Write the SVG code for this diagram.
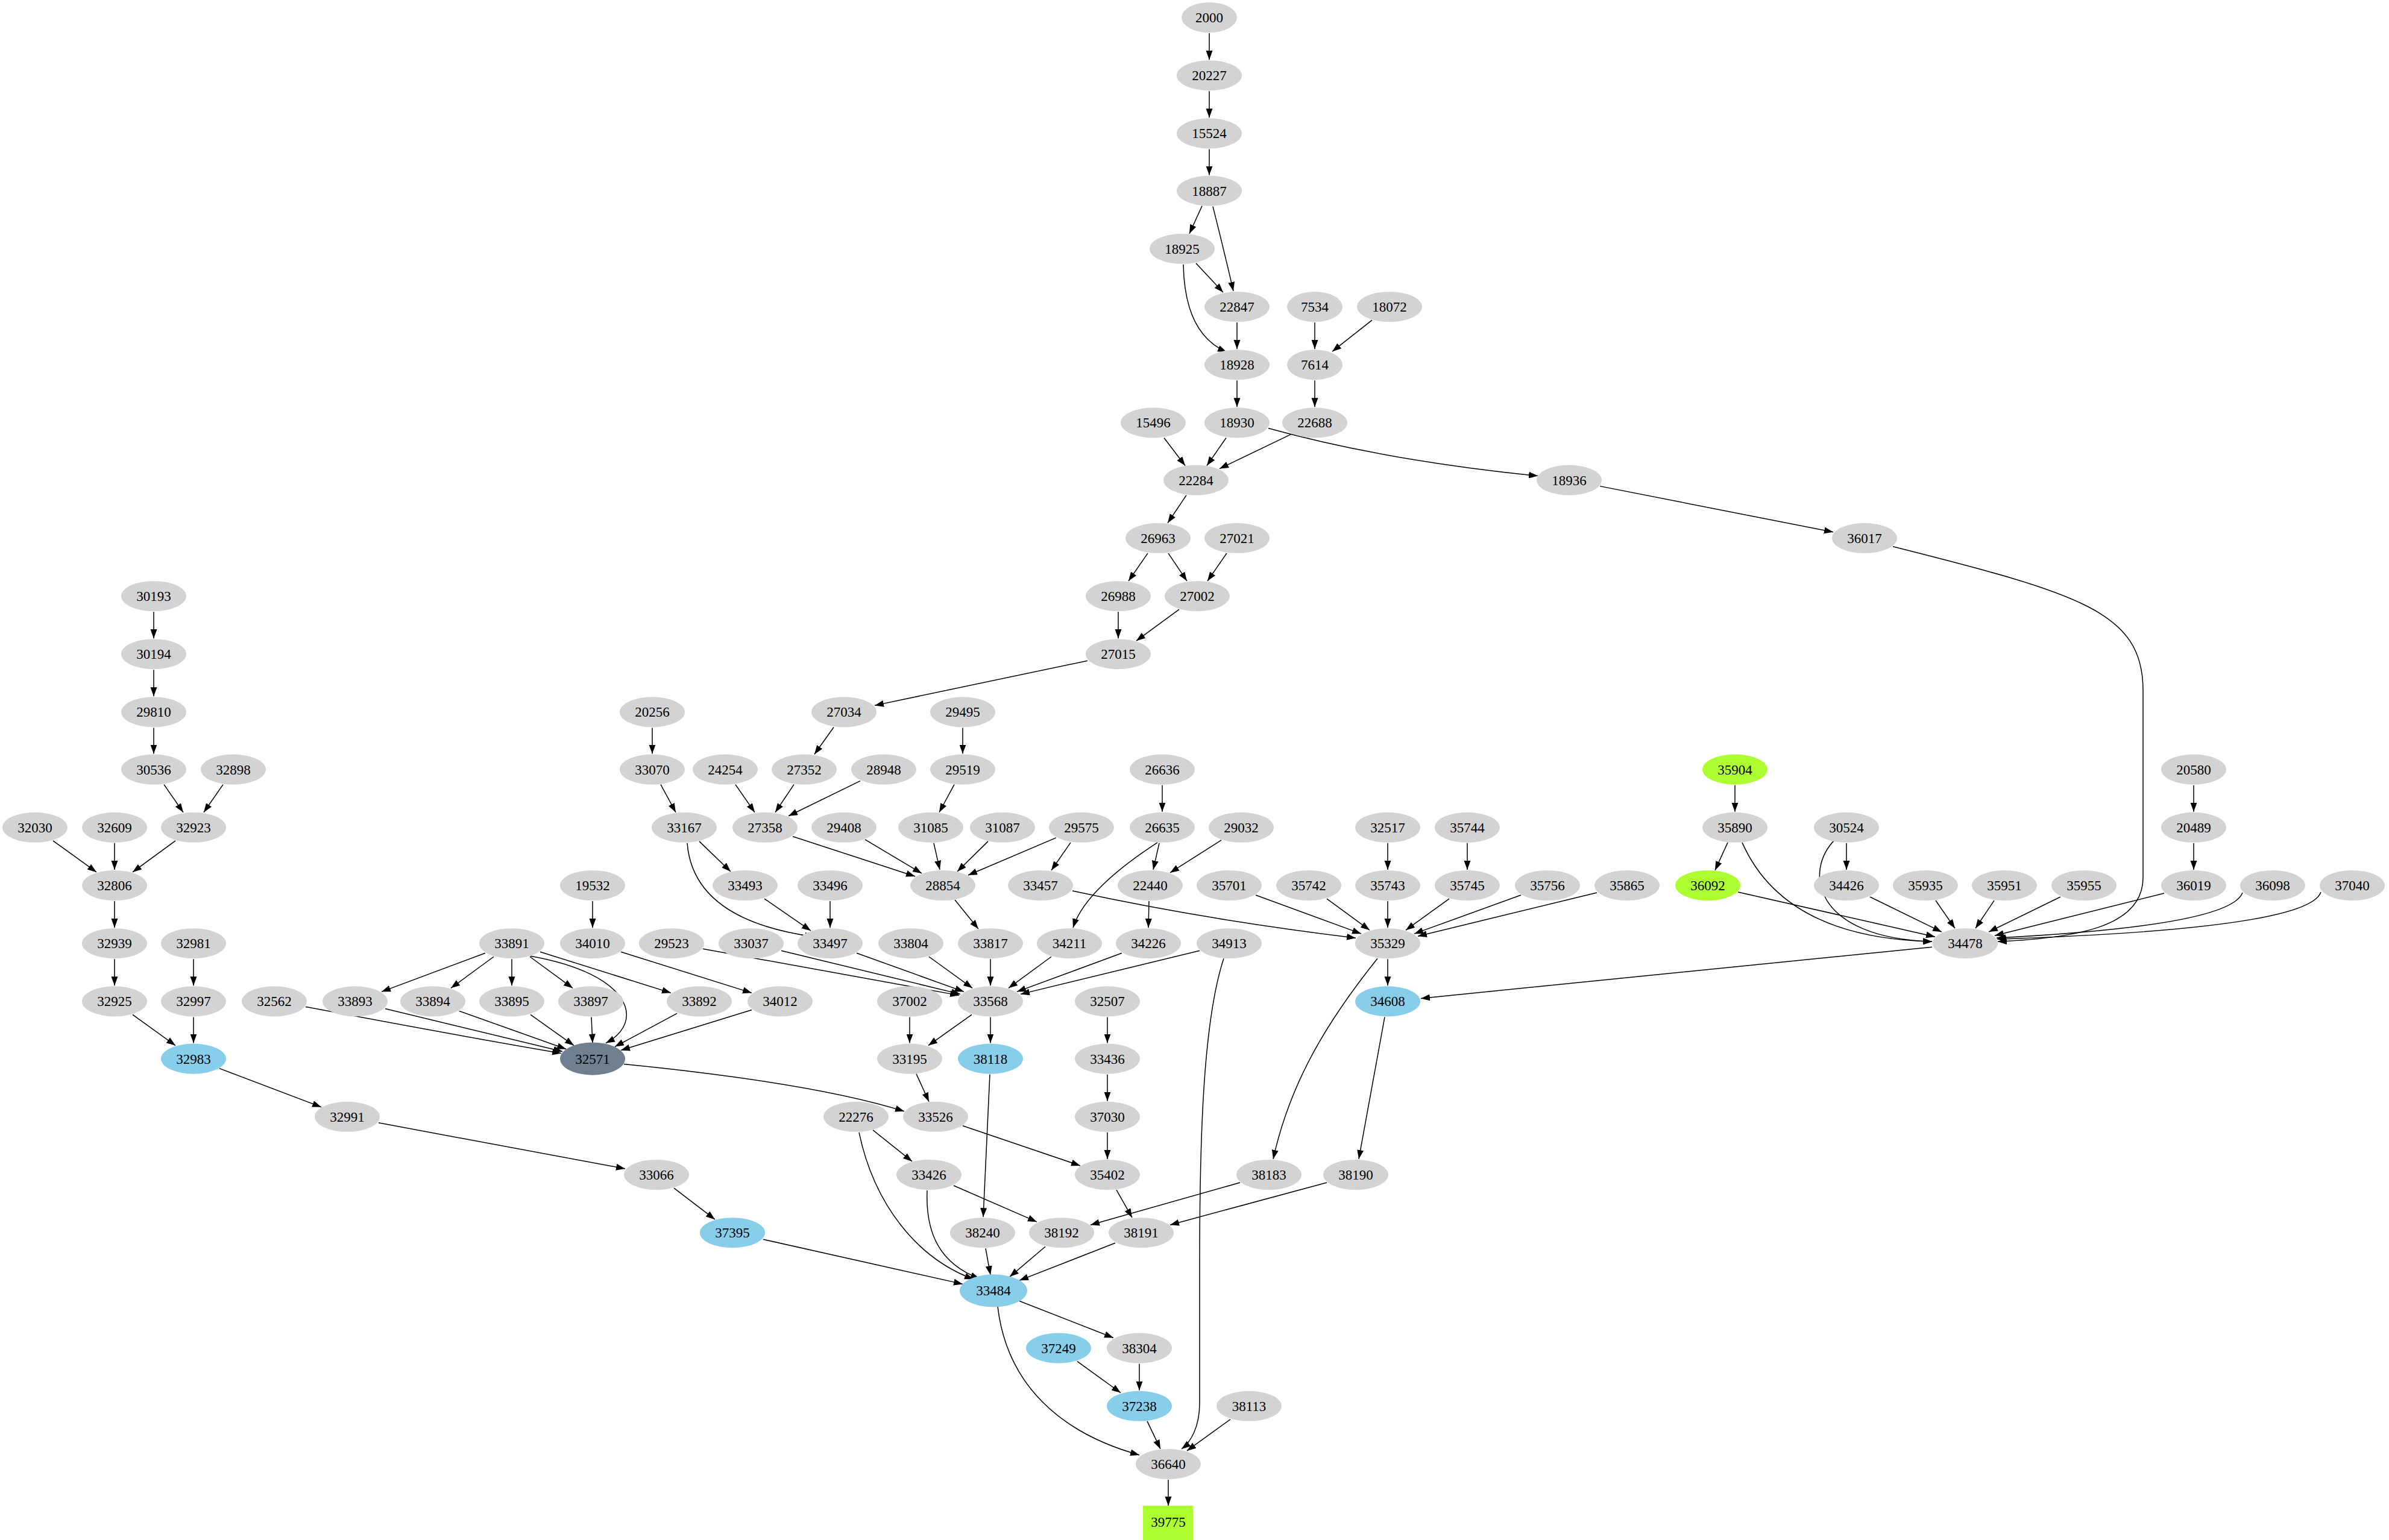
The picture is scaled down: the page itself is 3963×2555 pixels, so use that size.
<svg xmlns="http://www.w3.org/2000/svg" width="3963" height="2555" viewBox="0 0 3963 2555">
<style>
ellipse{fill:#d3d3d3;stroke:none}
.b ellipse{fill:#87ceeb}
.s ellipse{fill:#708090}
.g ellipse,.g rect{fill:#adff2f}
text{font-family:"Liberation Serif","DejaVu Serif",serif;font-size:23px;text-anchor:middle;fill:#000}
#edges path{fill:none;stroke:#000;stroke-width:1.5;marker-end:url(#ah)}
</style>
<defs><marker id="ah" markerUnits="userSpaceOnUse" markerWidth="16" markerHeight="12" refX="15" refY="5.5" orient="auto"><path d="M0,0 L15,5.5 L0,11 Z" fill="#000"/></marker></defs>
<rect width="3963" height="2555" fill="#fff"/>
<g transform="matrix(1 0 0 1.002088 0 -7.075)">
<g id="edges">
<path d="M2006,62 L2006,106"/><path d="M2006,158 L2006,202"/><path d="M2006,254 L2006,297"/>
<path d="M1994,348 L1973,394"/><path d="M2012,349 Q2030,420 2046,489"/><path d="M1984,443 L2029,491"/>
<path d="M1963,445 Q1965,560 2035,590"/><path d="M2052,541 L2052,585"/><path d="M2181,541 L2181,585"/>
<path d="M2276,537 L2210,589"/><path d="M2052,637 L2052,681"/><path d="M2181,637 L2181,681"/>
<path d="M1931,732 L1966,778"/><path d="M2034,732 L2002,778"/><path d="M2142,726 L2023,783"/>
<path d="M2104,716 Q2300,770 2551,795"/><path d="M1968,827 L1937,873"/><path d="M2654,812 L3041,888"/>
<path d="M1904,923 L1872,969"/><path d="M1938,923 L1969,969"/><path d="M2035,923 L2003,969"/>
<path d="M1855,1020 L1855,1064"/><path d="M1956,1016 L1885,1068"/><path d="M1804,1101 L1451,1175"/>
<path d="M255,1020 L255,1064"/><path d="M255,1116 L255,1160"/><path d="M255,1212 L255,1255"/>
<path d="M1082,1212 L1082,1255"/><path d="M1383,1211 L1351,1256"/><path d="M1597,1212 L1597,1255"/>
<path d="M272,1306 L304,1352"/><path d="M370,1306 L338,1352"/><path d="M1096,1306 L1121,1352"/>
<path d="M1220,1306 L1252,1352"/><path d="M1317,1306 L1286,1352"/><path d="M1427,1300 L1308,1358"/>
<path d="M1583,1306 L1558,1352"/><path d="M1928,1307 L1928,1351"/><path d="M2878,1307 L2878,1351"/>
<path d="M3639,1307 L3639,1351"/><path d="M88,1399 L160,1451"/><path d="M190,1403 L190,1447"/>
<path d="M291,1399 L220,1451"/><path d="M1160,1400 L1212,1450"/><path d="M1140,1403 Q1150,1530 1350,1558"/>
<path d="M1315,1392 L1518,1458"/><path d="M1435,1397 L1529,1453"/><path d="M1549,1403 L1559,1447"/>
<path d="M1639,1400 L1588,1450"/><path d="M1752,1394 L1606,1456"/><path d="M1776,1402 L1744,1448"/>
<path d="M1923,1403 L1913,1447"/><path d="M2026,1398 L1941,1452"/><path d="M1920,1402 Q1800,1480 1780,1543"/>
<path d="M2302,1403 L2302,1447"/><path d="M2434,1403 L2434,1447"/><path d="M2866,1402 L2845,1448"/>
<path d="M2890,1402 Q2960,1560 3205,1566"/><path d="M3063,1403 L3063,1447"/><path d="M3045,1396 C2990,1450 3010,1560 3205,1566"/>
<path d="M3639,1403 L3639,1447"/><path d="M190,1499 L190,1543"/><path d="M983,1499 L983,1543"/>
<path d="M1268,1495 L1345,1548"/><path d="M1377,1499 L1377,1543"/><path d="M1584,1497 L1623,1545"/>
<path d="M1779,1482 Q2000,1530 2249,1560"/><path d="M1906,1499 L1905,1543"/><path d="M2083,1489 L2258,1553"/>
<path d="M2201,1495 L2272,1547"/><path d="M2302,1499 L2302,1543"/><path d="M2404,1495 L2332,1547"/>
<path d="M2523,1489 L2346,1553"/><path d="M2649,1485 L2352,1557"/><path d="M2883,1484 L3210,1558"/>
<path d="M3102,1492 L3221,1550"/><path d="M3211,1498 L3243,1544"/><path d="M3308,1498 L3277,1544"/>
<path d="M3418,1492 L3299,1550"/><path d="M3590,1486 L3309,1556"/><path d="M3720,1485 Q3700,1540 3312,1560"/>
<path d="M3850,1484 Q3830,1545 3313,1562"/><path d="M3140,912 C3450,990 3555,1020 3555,1150 L3555,1460 C3555,1540 3450,1560 3314,1566"/>
<path d="M190,1595 L190,1639"/><path d="M321,1595 L321,1639"/><path d="M805,1585 L633,1649"/>
<path d="M819,1591 L748,1643"/><path d="M849,1595 L849,1639"/><path d="M879,1591 L950,1643"/>
<path d="M896,1583 L1113,1651"/><path d="M880,1590 C1050,1620 1070,1700 1005,1734"/><path d="M1030,1583 L1247,1651"/>
<path d="M1166,1578 Q1400,1620 1591,1655"/><path d="M1296,1581 L1593,1653"/><path d="M1421,1585 L1599,1649"/>
<path d="M1541,1591 L1613,1643"/><path d="M1643,1595 L1643,1639"/><path d="M1744,1591 L1673,1643"/>
<path d="M1861,1585 L1687,1649"/><path d="M1990,1581 L1693,1653"/><path d="M2030,1594 C1995,1700 1990,1900 1990,2100 L1990,2330 C1990,2370 1975,2395 1960,2406"/>
<path d="M2302,1595 L2302,1639"/><path d="M3205,1575 L2357,1660"/><path d="M2285,1594 C2200,1700 2140,1800 2112,1926"/>
<path d="M220,1687 L291,1738"/><path d="M321,1691 L321,1734"/><path d="M507,1674 Q750,1720 931,1751"/>
<path d="M639,1677 L933,1748"/><path d="M762,1681 L939,1744"/><path d="M880,1687 L952,1738"/>
<path d="M981,1691 L983,1734"/><path d="M1123,1685 L1020,1740"/><path d="M1247,1679 L1030,1746"/>
<path d="M1509,1691 L1509,1734"/><path d="M1612,1687 L1540,1738"/><path d="M1643,1691 L1643,1734"/>
<path d="M1837,1691 L1837,1734"/><path d="M364,1776 L533,1840"/><path d="M1035,1769 Q1350,1800 1500,1847"/>
<path d="M1520,1785 L1541,1831"/><path d="M1837,1786 L1837,1830"/><path d="M628,1866 L1037,1942"/>
<path d="M1448,1878 L1513,1930"/><path d="M1425,1882 C1450,2000 1520,2090 1615,2125"/><path d="M1597,1871 L1792,1937"/>
<path d="M1837,1882 L1837,1926"/><path d="M2057,1965 L1809,2035"/><path d="M2201,1965 L1941,2035"/>
<path d="M2297,1691 L2254,1926"/><path d="M1118,1974 L1186,2026"/><path d="M1642,1786 L1631,2022"/>
<path d="M1582,1970 L1720,2030"/><path d="M1538,1978 C1535,2050 1560,2100 1625,2124"/><path d="M1852,1977 L1878,2023"/>
<path d="M1266,2059 L1597,2133"/><path d="M1635,2074 L1643,2118"/><path d="M1734,2071 L1675,2121"/>
<path d="M1850,2065 L1691,2127"/><path d="M1691,2161 L1847,2222"/><path d="M1655,2170 C1670,2300 1760,2380 1890,2416"/>
<path d="M1787,2261 L1859,2313"/><path d="M1890,2265 L1890,2309"/><path d="M1903,2360 L1925,2406"/>
<path d="M2041,2357 L1969,2409"/><path d="M1938,2457 L1938,2500"/>
</g>
<g id="n2000"><ellipse cx="2006" cy="36" rx="46" ry="25"/><text x="2006" y="44">2000</text></g>
<g id="n20227"><ellipse cx="2006" cy="132" rx="54" ry="25"/><text x="2006" y="140">20227</text></g>
<g id="n15524"><ellipse cx="2006" cy="228" rx="54" ry="25"/><text x="2006" y="236">15524</text></g>
<g id="n18887"><ellipse cx="2006" cy="323" rx="54" ry="25"/><text x="2006" y="331">18887</text></g>
<g id="n18925"><ellipse cx="1961" cy="419" rx="54" ry="25"/><text x="1961" y="427">18925</text></g>
<g id="n22847"><ellipse cx="2052" cy="515" rx="54" ry="25"/><text x="2052" y="523">22847</text></g>
<g id="n7534"><ellipse cx="2181" cy="515" rx="46" ry="25"/><text x="2181" y="523">7534</text></g>
<g id="n18072"><ellipse cx="2305" cy="515" rx="54" ry="25"/><text x="2305" y="523">18072</text></g>
<g id="n18928"><ellipse cx="2052" cy="611" rx="54" ry="25"/><text x="2052" y="619">18928</text></g>
<g id="n7614"><ellipse cx="2181" cy="611" rx="46" ry="25"/><text x="2181" y="619">7614</text></g>
<g id="n15496"><ellipse cx="1913" cy="707" rx="54" ry="25"/><text x="1913" y="715">15496</text></g>
<g id="n18930"><ellipse cx="2052" cy="707" rx="54" ry="25"/><text x="2052" y="715">18930</text></g>
<g id="n22688"><ellipse cx="2181" cy="707" rx="54" ry="25"/><text x="2181" y="715">22688</text></g>
<g id="n22284"><ellipse cx="1984" cy="802" rx="54" ry="25"/><text x="1984" y="810">22284</text></g>
<g id="n18936"><ellipse cx="2603" cy="802" rx="54" ry="25"/><text x="2603" y="810">18936</text></g>
<g id="n26963"><ellipse cx="1921" cy="898" rx="54" ry="25"/><text x="1921" y="906">26963</text></g>
<g id="n27021"><ellipse cx="2052" cy="898" rx="54" ry="25"/><text x="2052" y="906">27021</text></g>
<g id="n36017"><ellipse cx="3093" cy="898" rx="54" ry="25"/><text x="3093" y="906">36017</text></g>
<g id="n30193"><ellipse cx="255" cy="994" rx="54" ry="25"/><text x="255" y="1002">30193</text></g>
<g id="n26988"><ellipse cx="1855" cy="994" rx="54" ry="25"/><text x="1855" y="1002">26988</text></g>
<g id="n27002"><ellipse cx="1986" cy="994" rx="54" ry="25"/><text x="1986" y="1002">27002</text></g>
<g id="n30194"><ellipse cx="255" cy="1090" rx="54" ry="25"/><text x="255" y="1098">30194</text></g>
<g id="n27015"><ellipse cx="1855" cy="1090" rx="54" ry="25"/><text x="1855" y="1098">27015</text></g>
<g id="n29810"><ellipse cx="255" cy="1186" rx="54" ry="25"/><text x="255" y="1194">29810</text></g>
<g id="n20256"><ellipse cx="1082" cy="1186" rx="54" ry="25"/><text x="1082" y="1194">20256</text></g>
<g id="n27034"><ellipse cx="1400" cy="1186" rx="54" ry="25"/><text x="1400" y="1194">27034</text></g>
<g id="n29495"><ellipse cx="1597" cy="1186" rx="54" ry="25"/><text x="1597" y="1194">29495</text></g>
<g id="n30536"><ellipse cx="255" cy="1281" rx="54" ry="25"/><text x="255" y="1289">30536</text></g>
<g id="n32898"><ellipse cx="387" cy="1281" rx="54" ry="25"/><text x="387" y="1289">32898</text></g>
<g id="n33070"><ellipse cx="1082" cy="1281" rx="54" ry="25"/><text x="1082" y="1289">33070</text></g>
<g id="n24254"><ellipse cx="1203" cy="1281" rx="54" ry="25"/><text x="1203" y="1289">24254</text></g>
<g id="n27352"><ellipse cx="1334" cy="1281" rx="54" ry="25"/><text x="1334" y="1289">27352</text></g>
<g id="n28948"><ellipse cx="1466" cy="1281" rx="54" ry="25"/><text x="1466" y="1289">28948</text></g>
<g id="n29519"><ellipse cx="1597" cy="1281" rx="54" ry="25"/><text x="1597" y="1289">29519</text></g>
<g id="n26636"><ellipse cx="1928" cy="1281" rx="54" ry="25"/><text x="1928" y="1289">26636</text></g>
<g id="n35904" class="g"><ellipse cx="2878" cy="1281" rx="54" ry="25"/><text x="2878" y="1289">35904</text></g>
<g id="n20580"><ellipse cx="3639" cy="1281" rx="54" ry="25"/><text x="3639" y="1289">20580</text></g>
<g id="n32030"><ellipse cx="58" cy="1377" rx="54" ry="25"/><text x="58" y="1385">32030</text></g>
<g id="n32609"><ellipse cx="190" cy="1377" rx="54" ry="25"/><text x="190" y="1385">32609</text></g>
<g id="n32923"><ellipse cx="321" cy="1377" rx="54" ry="25"/><text x="321" y="1385">32923</text></g>
<g id="n33167"><ellipse cx="1135" cy="1377" rx="54" ry="25"/><text x="1135" y="1385">33167</text></g>
<g id="n27358"><ellipse cx="1269" cy="1377" rx="54" ry="25"/><text x="1269" y="1385">27358</text></g>
<g id="n29408"><ellipse cx="1400" cy="1377" rx="54" ry="25"/><text x="1400" y="1385">29408</text></g>
<g id="n31085"><ellipse cx="1544" cy="1377" rx="54" ry="25"/><text x="1544" y="1385">31085</text></g>
<g id="n31087"><ellipse cx="1663" cy="1377" rx="54" ry="25"/><text x="1663" y="1385">31087</text></g>
<g id="n29575"><ellipse cx="1794" cy="1377" rx="54" ry="25"/><text x="1794" y="1385">29575</text></g>
<g id="n26635"><ellipse cx="1928" cy="1377" rx="54" ry="25"/><text x="1928" y="1385">26635</text></g>
<g id="n29032"><ellipse cx="2059" cy="1377" rx="54" ry="25"/><text x="2059" y="1385">29032</text></g>
<g id="n32517"><ellipse cx="2302" cy="1377" rx="54" ry="25"/><text x="2302" y="1385">32517</text></g>
<g id="n35744"><ellipse cx="2434" cy="1377" rx="54" ry="25"/><text x="2434" y="1385">35744</text></g>
<g id="n35890"><ellipse cx="2878" cy="1377" rx="54" ry="25"/><text x="2878" y="1385">35890</text></g>
<g id="n30524"><ellipse cx="3063" cy="1377" rx="54" ry="25"/><text x="3063" y="1385">30524</text></g>
<g id="n20489"><ellipse cx="3639" cy="1377" rx="54" ry="25"/><text x="3639" y="1385">20489</text></g>
<g id="n32806"><ellipse cx="190" cy="1473" rx="54" ry="25"/><text x="190" y="1481">32806</text></g>
<g id="n19532"><ellipse cx="983" cy="1473" rx="54" ry="25"/><text x="983" y="1481">19532</text></g>
<g id="n33493"><ellipse cx="1236" cy="1473" rx="54" ry="25"/><text x="1236" y="1481">33493</text></g>
<g id="n33496"><ellipse cx="1377" cy="1473" rx="54" ry="25"/><text x="1377" y="1481">33496</text></g>
<g id="n28854"><ellipse cx="1564" cy="1473" rx="54" ry="25"/><text x="1564" y="1481">28854</text></g>
<g id="n33457"><ellipse cx="1726" cy="1473" rx="54" ry="25"/><text x="1726" y="1481">33457</text></g>
<g id="n22440"><ellipse cx="1908" cy="1473" rx="54" ry="25"/><text x="1908" y="1481">22440</text></g>
<g id="n35701"><ellipse cx="2039" cy="1473" rx="54" ry="25"/><text x="2039" y="1481">35701</text></g>
<g id="n35742"><ellipse cx="2171" cy="1473" rx="54" ry="25"/><text x="2171" y="1481">35742</text></g>
<g id="n35743"><ellipse cx="2302" cy="1473" rx="54" ry="25"/><text x="2302" y="1481">35743</text></g>
<g id="n35745"><ellipse cx="2434" cy="1473" rx="54" ry="25"/><text x="2434" y="1481">35745</text></g>
<g id="n35756"><ellipse cx="2567" cy="1473" rx="54" ry="25"/><text x="2567" y="1481">35756</text></g>
<g id="n35865"><ellipse cx="2699" cy="1473" rx="54" ry="25"/><text x="2699" y="1481">35865</text></g>
<g id="n36092" class="g"><ellipse cx="2833" cy="1473" rx="54" ry="25"/><text x="2833" y="1481">36092</text></g>
<g id="n34426"><ellipse cx="3063" cy="1473" rx="54" ry="25"/><text x="3063" y="1481">34426</text></g>
<g id="n35935"><ellipse cx="3194" cy="1473" rx="54" ry="25"/><text x="3194" y="1481">35935</text></g>
<g id="n35951"><ellipse cx="3325" cy="1473" rx="54" ry="25"/><text x="3325" y="1481">35951</text></g>
<g id="n35955"><ellipse cx="3457" cy="1473" rx="54" ry="25"/><text x="3457" y="1481">35955</text></g>
<g id="n36019"><ellipse cx="3639" cy="1473" rx="54" ry="25"/><text x="3639" y="1481">36019</text></g>
<g id="n36098"><ellipse cx="3770" cy="1473" rx="54" ry="25"/><text x="3770" y="1481">36098</text></g>
<g id="n37040"><ellipse cx="3902" cy="1473" rx="54" ry="25"/><text x="3902" y="1481">37040</text></g>
<g id="n32939"><ellipse cx="190" cy="1569" rx="54" ry="25"/><text x="190" y="1577">32939</text></g>
<g id="n32981"><ellipse cx="321" cy="1569" rx="54" ry="25"/><text x="321" y="1577">32981</text></g>
<g id="n33891"><ellipse cx="849" cy="1569" rx="54" ry="25"/><text x="849" y="1577">33891</text></g>
<g id="n34010"><ellipse cx="983" cy="1569" rx="54" ry="25"/><text x="983" y="1577">34010</text></g>
<g id="n29523"><ellipse cx="1114" cy="1569" rx="54" ry="25"/><text x="1114" y="1577">29523</text></g>
<g id="n33037"><ellipse cx="1246" cy="1569" rx="54" ry="25"/><text x="1246" y="1577">33037</text></g>
<g id="n33497"><ellipse cx="1377" cy="1569" rx="54" ry="25"/><text x="1377" y="1577">33497</text></g>
<g id="n33804"><ellipse cx="1511" cy="1569" rx="54" ry="25"/><text x="1511" y="1577">33804</text></g>
<g id="n33817"><ellipse cx="1643" cy="1569" rx="54" ry="25"/><text x="1643" y="1577">33817</text></g>
<g id="n34211"><ellipse cx="1774" cy="1569" rx="54" ry="25"/><text x="1774" y="1577">34211</text></g>
<g id="n34226"><ellipse cx="1905" cy="1569" rx="54" ry="25"/><text x="1905" y="1577">34226</text></g>
<g id="n34913"><ellipse cx="2039" cy="1569" rx="54" ry="25"/><text x="2039" y="1577">34913</text></g>
<g id="n35329"><ellipse cx="2302" cy="1569" rx="54" ry="25"/><text x="2302" y="1577">35329</text></g>
<g id="n34478"><ellipse cx="3260" cy="1569" rx="54" ry="25"/><text x="3260" y="1577">34478</text></g>
<g id="n32925"><ellipse cx="190" cy="1665" rx="54" ry="25"/><text x="190" y="1673">32925</text></g>
<g id="n32997"><ellipse cx="321" cy="1665" rx="54" ry="25"/><text x="321" y="1673">32997</text></g>
<g id="n32562"><ellipse cx="455" cy="1665" rx="54" ry="25"/><text x="455" y="1673">32562</text></g>
<g id="n33893"><ellipse cx="589" cy="1665" rx="54" ry="25"/><text x="589" y="1673">33893</text></g>
<g id="n33894"><ellipse cx="718" cy="1665" rx="54" ry="25"/><text x="718" y="1673">33894</text></g>
<g id="n33895"><ellipse cx="849" cy="1665" rx="54" ry="25"/><text x="849" y="1673">33895</text></g>
<g id="n33897"><ellipse cx="980" cy="1665" rx="54" ry="25"/><text x="980" y="1673">33897</text></g>
<g id="n33892"><ellipse cx="1160" cy="1665" rx="54" ry="25"/><text x="1160" y="1673">33892</text></g>
<g id="n34012"><ellipse cx="1294" cy="1665" rx="54" ry="25"/><text x="1294" y="1673">34012</text></g>
<g id="n37002"><ellipse cx="1509" cy="1665" rx="54" ry="25"/><text x="1509" y="1673">37002</text></g>
<g id="n33568"><ellipse cx="1643" cy="1665" rx="54" ry="25"/><text x="1643" y="1673">33568</text></g>
<g id="n32507"><ellipse cx="1837" cy="1665" rx="54" ry="25"/><text x="1837" y="1673">32507</text></g>
<g id="n34608" class="b"><ellipse cx="2302" cy="1665" rx="54" ry="25"/><text x="2302" y="1673">34608</text></g>
<g id="n32983" class="b"><ellipse cx="321" cy="1760" rx="54" ry="25"/><text x="321" y="1768">32983</text></g>
<g id="n32571" class="s"><ellipse cx="983" cy="1760" rx="54" ry="27"/><text x="983" y="1768">32571</text></g>
<g id="n33195"><ellipse cx="1509" cy="1760" rx="54" ry="25"/><text x="1509" y="1768">33195</text></g>
<g id="n38118" class="b"><ellipse cx="1643" cy="1760" rx="54" ry="25"/><text x="1643" y="1768">38118</text></g>
<g id="n33436"><ellipse cx="1837" cy="1760" rx="54" ry="25"/><text x="1837" y="1768">33436</text></g>
<g id="n32991"><ellipse cx="576" cy="1856" rx="54" ry="25"/><text x="576" y="1864">32991</text></g>
<g id="n22276"><ellipse cx="1420" cy="1856" rx="54" ry="25"/><text x="1420" y="1864">22276</text></g>
<g id="n33526"><ellipse cx="1552" cy="1856" rx="54" ry="25"/><text x="1552" y="1864">33526</text></g>
<g id="n37030"><ellipse cx="1837" cy="1856" rx="54" ry="25"/><text x="1837" y="1864">37030</text></g>
<g id="n33066"><ellipse cx="1089" cy="1952" rx="54" ry="25"/><text x="1089" y="1960">33066</text></g>
<g id="n33426"><ellipse cx="1541" cy="1952" rx="54" ry="25"/><text x="1541" y="1960">33426</text></g>
<g id="n35402"><ellipse cx="1837" cy="1952" rx="54" ry="25"/><text x="1837" y="1960">35402</text></g>
<g id="n38183"><ellipse cx="2105" cy="1952" rx="54" ry="25"/><text x="2105" y="1960">38183</text></g>
<g id="n38190"><ellipse cx="2249" cy="1952" rx="54" ry="25"/><text x="2249" y="1960">38190</text></g>
<g id="n37395" class="b"><ellipse cx="1215" cy="2048" rx="54" ry="25"/><text x="1215" y="2056">37395</text></g>
<g id="n38240"><ellipse cx="1630" cy="2048" rx="54" ry="25"/><text x="1630" y="2056">38240</text></g>
<g id="n38192"><ellipse cx="1761" cy="2048" rx="54" ry="25"/><text x="1761" y="2056">38192</text></g>
<g id="n38191"><ellipse cx="1893" cy="2048" rx="54" ry="25"/><text x="1893" y="2056">38191</text></g>
<g id="n33484" class="b"><ellipse cx="1648" cy="2144" rx="56" ry="27"/><text x="1648" y="2152">33484</text></g>
<g id="n37249" class="b"><ellipse cx="1756" cy="2239" rx="54" ry="25"/><text x="1756" y="2247">37249</text></g>
<g id="n38304"><ellipse cx="1890" cy="2239" rx="54" ry="25"/><text x="1890" y="2247">38304</text></g>
<g id="n37238" class="b"><ellipse cx="1890" cy="2335" rx="54" ry="25"/><text x="1890" y="2343">37238</text></g>
<g id="n38113"><ellipse cx="2072" cy="2335" rx="54" ry="25"/><text x="2072" y="2343">38113</text></g>
<g id="n36640"><ellipse cx="1938" cy="2431" rx="54" ry="25"/><text x="1938" y="2439">36640</text></g>
<g id="n39775" class="g"><rect x="1896" y="2500" width="83" height="60"/><text x="1938" y="2535">39775</text></g>
</g>
</svg>
